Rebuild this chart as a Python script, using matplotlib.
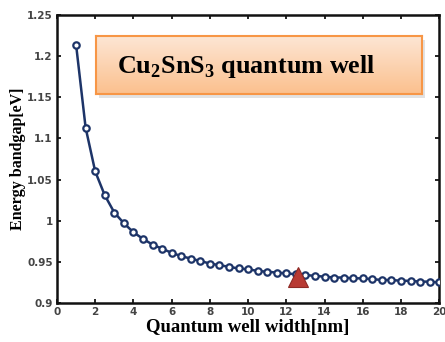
import numpy as np
import matplotlib
matplotlib.use("Agg")
import matplotlib.pyplot as plt
from matplotlib.patches import Rectangle

plt.rcParams["mathtext.fontset"] = "custom"
plt.rcParams["mathtext.rm"] = "Liberation Serif"
plt.rcParams["mathtext.bf"] = "Liberation Serif:bold"

# quantum well width [nm] and bandgap [eV]
width_nm = [1.0, 1.5, 2.0, 2.5, 3.0, 3.5, 4.0, 4.5, 5.0, 5.5, 6.0, 6.5, 7.0,
            7.5, 8.0, 8.5, 9.0, 9.5, 10.0, 10.5, 11.0, 11.5, 12.0, 12.5,
            13.0, 13.5, 14.0, 14.5, 15.0, 15.5, 16.0, 16.5, 17.0, 17.5,
            18.0, 18.5, 19.0, 19.5, 20.0]
bandgap_ev = [1.214, 1.113, 1.060, 1.031, 1.010, 0.997, 0.986, 0.978, 0.971,
              0.966, 0.961, 0.957, 0.954, 0.951, 0.948, 0.946, 0.944, 0.942,
              0.941, 0.939, 0.938, 0.937, 0.936, 0.935, 0.934, 0.933, 0.932,
              0.931, 0.931, 0.930, 0.930, 0.929, 0.928, 0.928, 0.927, 0.927,
              0.926, 0.926, 0.925]
marked_x = [12.6]
marked_y = [0.932]

xticks = [0, 2, 4, 6, 8, 10, 12, 14, 16, 18, 20]
yticks = [0.9, 0.95, 1.0, 1.05, 1.1, 1.15, 1.2, 1.25]
ytick_labels = ["0.9", "0.95", "1", "1.05", "1.1", "1.15", "1.2", "1.25"]

navy = "#1d3468"

fig = plt.figure(figsize=(4.45, 3.42), dpi=100)
ax = fig.add_axes([0.128, 0.114, 0.859, 0.842])

ax.plot(width_nm, bandgap_ev, color=navy, lw=1.8, marker="o", ms=4.6,
        mfc="white", mec=navy, mew=1.6, zorder=3)
ax.plot(marked_x, marked_y, marker="^", ms=14, color="#b83a33",
        mec="#8e2a25", mew=0.8, ls="none", zorder=4)

ax.set_xlim(0, 20)
ax.set_ylim(0.9, 1.25)
ax.set_xticks(xticks)
ax.set_yticks(yticks)
ax.set_yticklabels(ytick_labels)
ax.tick_params(direction="in", length=3, width=1.2, top=True, right=True,
               labelsize=7.5, labelcolor="#444444", pad=3)
for lab in ax.get_xticklabels() + ax.get_yticklabels():
    lab.set_fontweight("bold")
for s in ax.spines.values():
    s.set_linewidth(1.8)
    s.set_color("#111111")

ax.set_xlabel("Quantum well width[nm]", family="Liberation Serif",
              fontweight="bold", fontsize=13.5, labelpad=1)
ax.set_ylabel("Energy bandgap[eV]", family="Liberation Serif",
              fontweight="bold", fontsize=11.5, labelpad=1)

# title box with orange gradient and a soft shadow
W, H = 445, 342
bx0, by0, bx1, by1 = 96, 36, 422, 94
shadow = Rectangle(((bx0 + 3) / W, 1 - (by1 + 4) / H),
                   (bx1 - bx0) / W, (by1 - by0) / H,
                   transform=fig.transFigure, facecolor="#d0d0d0",
                   edgecolor="none", alpha=0.6, zorder=5)
fig.patches.append(shadow)
bax = fig.add_axes([bx0 / W, 1 - by1 / H, (bx1 - bx0) / W, (by1 - by0) / H],
                   zorder=6)
grad = np.linspace(0, 1, 100).reshape(-1, 1)
cmap = matplotlib.colors.LinearSegmentedColormap.from_list(
    "og", ["#fde6d4", "#fbc08e"])
bax.imshow(grad, aspect="auto", cmap=cmap, extent=[0, 1, 0, 1], origin="upper")
bax.set_xlim(0, 1)
bax.set_ylim(0, 1)
bax.set_xticks([])
bax.set_yticks([])
for s in bax.spines.values():
    s.set_color("#f79646")
    s.set_linewidth(1.5)
bax.text(0.065, 0.47, r"Cu$_\mathbf{2}$SnS$_\mathbf{3}$ quantum well",
         family="Liberation Serif", fontweight="bold", fontsize=18.8,
         ha="left", va="center", color="black")

fig.savefig("out.png", dpi=100)
